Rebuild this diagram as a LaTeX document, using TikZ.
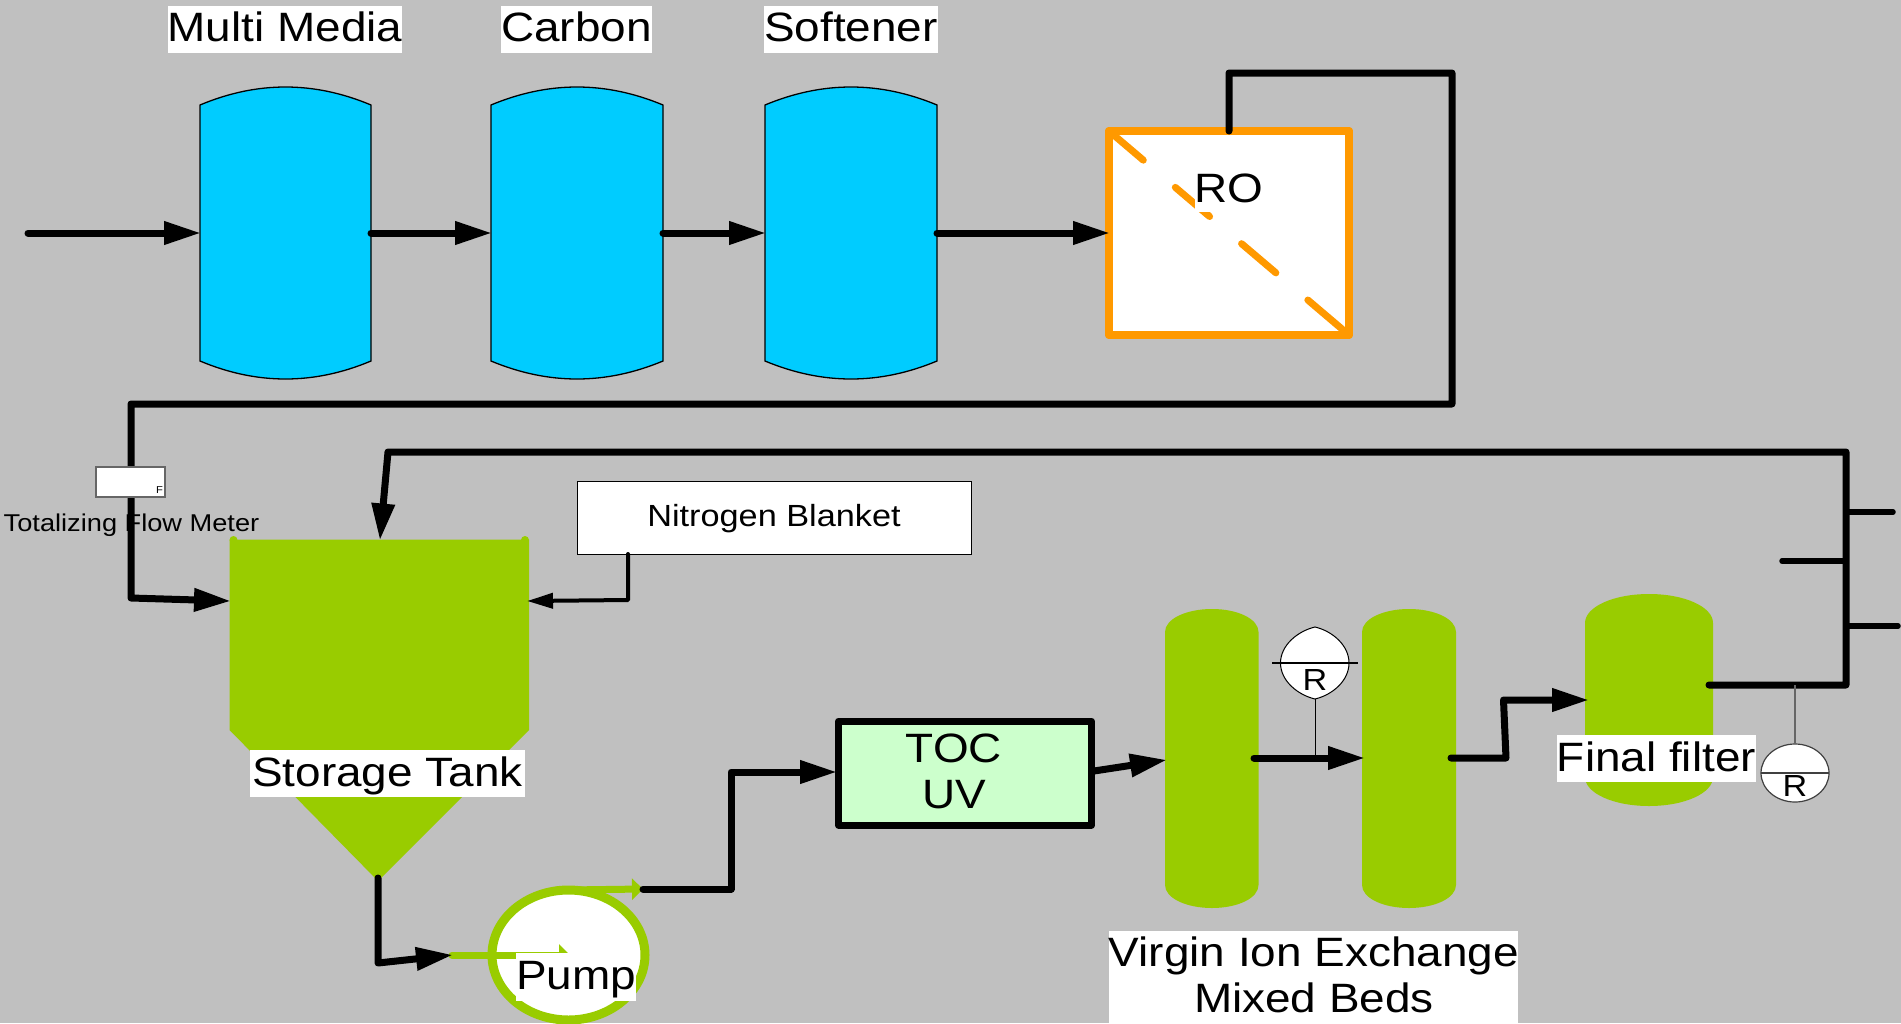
\documentclass[tikz,border=0pt]{standalone}
\usepackage{fontspec}
\setmainfont{Liberation Sans}[FakeStretch=1.12]
\usetikzlibrary{arrows.meta,shapes.geometric}
\definecolor{bgc}{HTML}{C0C0C0}
\definecolor{grn}{HTML}{99CC00}
\definecolor{blu}{HTML}{00CCFF}
\definecolor{org}{HTML}{FF9900}
\definecolor{uvg}{HTML}{CCFFCC}
\tikzset{
  flow/.style={draw=black,line width=7pt,line cap=round,line join=round,shorten >=-1pt,-{Triangle[length=37pt,width=22pt]}},
  branch/.style={draw=black,line width=5.5pt,line cap=round},
  thinflow/.style={draw=black,line width=4pt,line cap=round,line join=round,shorten >=-1pt,-{Triangle[length=26pt,width=15pt]}},
  grnflow/.style={draw=grn,line width=7pt,line cap=round,-{Triangle[length=11pt,width=21pt]}},
  anchorbox/.style={inner sep=0pt,outer sep=0pt,rectangle},
  vessel/.style={fill=blu,draw=black,line width=1.3pt},
  txtbox/.style={fill=white,inner sep=0pt,outer sep=0pt,font=\fontsize{41}{46}\selectfont,text height=36pt,text depth=11pt,align=center},
  plaintxt/.style={inner sep=0pt,outer sep=0pt,font=\fontsize{41}{46}\selectfont,align=center},
  smalltxt/.style={inner sep=0pt,outer sep=0pt,font=\fontsize{30.5}{34}\selectfont},
  sensor/.style={fill=white,draw=black,line width=1pt},
}
\begin{document}
\begin{tikzpicture}[x=1pt,y=-1pt]
\useasboundingbox (0,0) rectangle (1901,1023);
\fill[bgc] (0,0) rectangle (1901,1023);

% anchor boxes
\node[anchorbox,minimum width=171pt,minimum height=292pt] (v1) at (285.5,233) {};
\node[anchorbox,minimum width=172pt,minimum height=292pt] (v2) at (577,233) {};
\node[anchorbox,minimum width=172pt,minimum height=292pt] (v3) at (851,233) {};

% blue vessels
\foreach \n in {v1,v2,v3}{
  \path[vessel] (\n.west |- 0,105)
    .. controls ([xshift=-28.5pt]\n.center |- 0,81) and ([xshift=28.5pt]\n.center |- 0,81) .. (\n.east |- 0,105)
    -- (\n.east |- 0,361)
    .. controls ([xshift=28.5pt]\n.center |- 0,385) and ([xshift=-28.5pt]\n.center |- 0,385) .. (\n.west |- 0,361)
    -- cycle;
}

% RO
\node[anchorbox,draw=org,fill=white,line width=7.5pt,line join=round,minimum width=240pt,minimum height=204pt] (ro) at (1229,233) {};
\draw[org,line width=7pt,line cap=round,dash pattern=on 45pt off 42pt] (ro.north west) -- (ro.south east);
\draw[org,line width=7.5pt,line join=round] (ro.north west) rectangle (ro.south east);
\node[fill=white,inner sep=0pt,outer sep=0pt,minimum width=68pt,minimum height=48pt,font=\fontsize{41}{46}\selectfont] (rotxt) at (1229,188) {RO};

% storage tank
\coordinate (tankapex) at (378,878);
\coordinate (tankL) at (230,601);
\coordinate (tankR) at (528,601);
\coordinate (tankT) at (380,539.5);
\fill[grn] (229.5,539.5) -- (529,539.5) -- (529,730) -- (378,881) -- (229.5,730) -- cycle;
\fill[grn] (233.5,540) circle (4pt) (525,540) circle (4pt);

% beds
\coordinate (bed1W) at (1166,760);
\coordinate (bed1E) at (1254,758);
\coordinate (bed2W) at (1364,758);
\coordinate (bed2E) at (1451,758);
\fill[grn] (1165,632) .. controls (1165,619) and (1186,609) .. (1212,609) .. controls (1238,609) and (1258.5,619) .. (1258.5,632)
  -- (1258.5,885) .. controls (1258.5,898) and (1238,908) .. (1212,908) .. controls (1186,908) and (1165,898) .. (1165,885) -- cycle;
\fill[grn] (1362,632) .. controls (1362,619) and (1383,609) .. (1409,609) .. controls (1435,609) and (1456,619) .. (1456,632)
  -- (1456,885) .. controls (1456,898) and (1435,908) .. (1409,908) .. controls (1383,908) and (1362,898) .. (1362,885) -- cycle;
% final filter
\coordinate (ffW) at (1588,700);
\coordinate (ffE) at (1709,685);
\fill[grn] (1585,623) .. controls (1585,607) and (1613,594) .. (1649,594) .. controls (1685,594) and (1713,607) .. (1713,623)
  -- (1713,777) .. controls (1713,793) and (1685,806) .. (1649,806) .. controls (1613,806) and (1585,793) .. (1585,777) -- cycle;

% TOC UV
\node[anchorbox,draw=black,fill=uvg,line width=7pt,line join=round,minimum width=253pt,minimum height=104pt] (toc) at (965,773) {};
\node[plaintxt] (toctxt) at (954,771) {TOC\\UV};

% Pump
\node[ellipse,draw=grn,fill=white,line width=9pt,inner sep=0pt,outer sep=0pt,minimum width=153pt,minimum height=130pt] (pump) at (568.5,955) {};
\coordinate (pumpIn) at (452,955);
\coordinate (pumpInTip) at (570,955);
\coordinate (pumpOutS) at (567,890);
\coordinate (pumpOut) at (643,889);
\draw[grnflow] (pumpIn) -- (pumpInTip);
\draw[grnflow] (pumpOutS) -- (pumpOut);
\node[fill=white,inner sep=0pt,outer sep=0pt,minimum width=120pt,minimum height=48pt,font=\fontsize{41}{46}\selectfont,text height=36pt,text depth=12pt] (pumptxt) at (576,977) {Pump};

% nitrogen
\node[anchorbox,draw=black,fill=white,line width=1pt,minimum width=394pt,minimum height=73pt] (n2) at (774,517.5) {};
\node[inner sep=0pt,outer sep=0pt,font=\fontsize{30.6}{34}\selectfont] (n2txt) at (774,519) {Nitrogen Blanket};
\coordinate (n2b) at (628,554);
\coordinate (n2k) at (628,600);

% Connectors
\coordinate (src) at (28,233);
\draw[flow] (src) -- (v1.west);
\draw[flow] (v1.east) -- (v2.west);
\draw[flow] (v2.east) -- (v3.west);
\draw[flow] (v3.east) -- (ro.west);

\coordinate (roT) at (1229,131);
\coordinate (r1) at (1229,73);
\coordinate (r2) at (1452,73);
\coordinate (r3) at (1452,404);
\coordinate (r4) at (131,404);
\coordinate (r5) at (131,598);
\draw[flow] (roT) -- (r1) -- (r2) -- (r3) -- (r4) -- (r5) -- (tankL);

% flow meter
\node[anchorbox,draw=black!60,fill=white,line width=1.2pt,minimum width=69pt,minimum height=30pt] (fm) at (130.5,482) {};
\node[inner sep=0pt,outer sep=0pt,font=\fontsize{10}{11}\selectfont] (fmF) at (159.5,490) {F};
\node[inner sep=0pt,outer sep=0pt,font=\fontsize{24.3}{28}\selectfont] (fmtxt) at (131.5,525) {Totalizing Flow Meter};

\draw[thinflow] (n2b) -- (n2k) -- (tankR);

\coordinate (t1) at (378,963);
\draw[flow] (tankapex) -- (t1) -- (pumpIn);

\coordinate (p1) at (731,889);
\coordinate (p2) at (731,772);
\coordinate (tocW) at (836,772);
\draw[flow] (pumpOut) -- (p1) -- (p2) -- (tocW);

\coordinate (tocE) at (1094,771);
\draw[flow] (tocE) -- (bed1W);
\draw[flow] (bed1E) -- (bed2W);

\coordinate (b1) at (1506,758);
\coordinate (b2) at (1503.5,700);
\draw[flow] (bed2E) -- (b1) -- (b2) -- (ffW);

\coordinate (o1) at (1846,685);
\coordinate (o2) at (1846,452);
\coordinate (o3) at (388,452);
\draw[flow] (ffE) -- (o1) -- (o2) -- (o3) -- (tankT);

\coordinate (jA) at (1846,512);
\coordinate (jB) at (1846,561);
\coordinate (jC) at (1846,626);
\coordinate (eA) at (1893,512);
\coordinate (eB) at (1782,561);
\coordinate (eC) at (1898,626);
\draw[branch] (jA) -- (eA);
\draw[branch] (jB) -- (eB);
\draw[branch] (jC) -- (eC);

% sensor 1 (lens)
\coordinate (sb) at (1315,699);
\coordinate (sj) at (1315,758);
\draw[black,line width=1pt] (sb) -- (sj);
\path[sensor] (1315,627) .. controls (1298,631) and (1280.5,645) .. (1280.5,663) .. controls (1280.5,681) and (1298,695) .. (sb)
  .. controls (1332,695) and (1349,681) .. (1349,663) .. controls (1349,645) and (1332,631) .. (1315,627) -- cycle;
\draw[black,line width=1.5pt] (1272,663) -- (1358,663);
\node[smalltxt] (r1txt) at (1315,680) {R};

% sensor 2
\node[ellipse,draw=black!75,fill=white,line width=1.2pt,inner sep=0pt,outer sep=0pt,minimum width=68pt,minimum height=58pt] (s2) at (1795,773) {};
\coordinate (s2j) at (1795,685);
\draw[black!60,line width=1.5pt] (s2j) -- (s2.north);
\draw[black!75,line width=2pt] (s2.west) -- (s2.east);
\node[smalltxt] (r2txt) at (1795,786) {R};

% white-backed labels
\node[txtbox,minimum width=233pt] (lab1) at (285,29) {Multi Media};
\node[txtbox,minimum width=149pt] (lab2) at (576.5,29) {Carbon};
\node[txtbox,minimum width=172pt] (lab3) at (851,29) {Softener};
\node[txtbox,minimum width=275pt] (lab4) at (387.5,773.5) {Storage Tank};
\node[txtbox,minimum width=199pt] (lab5) at (1656.5,758.5) {Final filter};
\node[fill=white,inner sep=0pt,outer sep=0pt,minimum width=409pt,minimum height=92pt] (lab6) at (1313.5,977) {};
\node[plaintxt] (lab6txt) at (1314,974.5) {Virgin Ion Exchange\\Mixed Beds};
\end{tikzpicture}
\end{document}
